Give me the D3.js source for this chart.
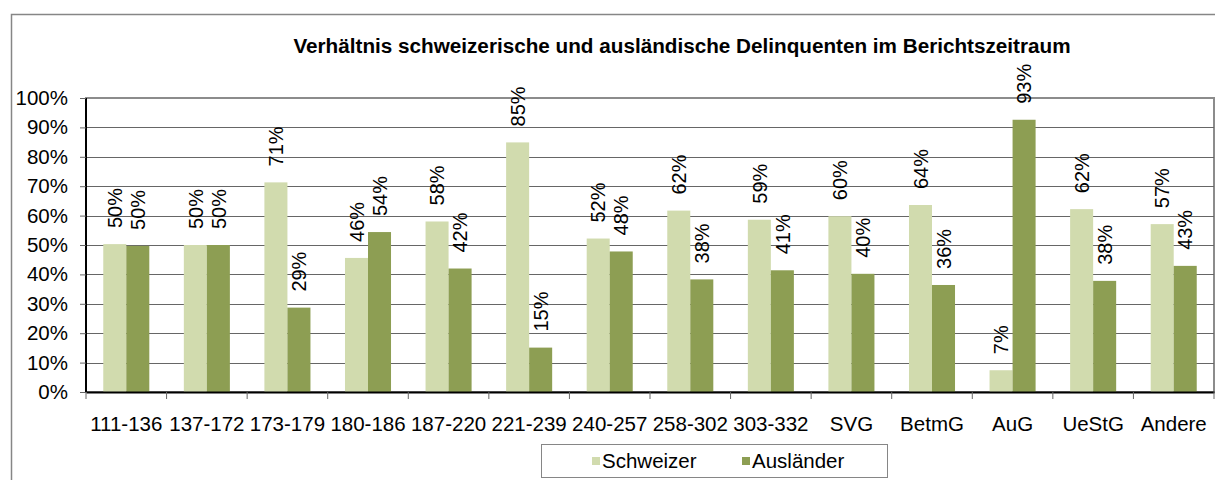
<!DOCTYPE html>
<html>
<head>
<meta charset="utf-8">
<script src="https://cdn.jsdelivr.net/npm/d3@7"></script>
<style>
  body { margin: 0; background: #fff; }
  text { font-family: "Liberation Sans", Arial, sans-serif; fill: #000; }
</style>
</head>
<body>
<div id="chartDiv"></div>
<script>
var categories = ["111-136", "137-172", "173-179", "180-186", "187-220", "221-239", "240-257",
                  "258-302", "303-332", "SVG", "BetmG", "AuG", "UeStG", "Andere"];
var seriesNames = ["Schweizer", "Ausländer"];
var schweizer = [50.3, 50.0, 71.3, 45.6, 58.0, 84.9, 52.2, 61.7, 58.6, 59.8, 63.6, 7.4, 62.2, 57.1];
var auslaender = [49.7, 50.0, 28.7, 54.4, 42.0, 15.1, 47.8, 38.3, 41.4, 40.2, 36.4, 92.6, 37.8, 42.9];
var yTicks = [0, 10, 20, 30, 40, 50, 60, 70, 80, 90, 100];
var colors = ["#d1dbae", "#8d9e53"];

var rows = categories.map(function(c, i) {
  return {cat: c, values: [schweizer[i], auslaender[i]]};
});

var svg = d3.select("#chartDiv").append("svg")
    .attr("width", 1215)
    .attr("height", 480);

var margin = {top: 98, left: 86, right: 1, bottom: 88};
var width = 1215 - margin.left - margin.right,
    height = 480 - margin.top - margin.bottom;

// outer chart frame
svg.append("rect")
    .attr("x", 11.5).attr("y", 14.5)
    .attr("width", 1300).attr("height", 600)
    .attr("fill", "none").attr("stroke", "#868686").attr("stroke-width", 1.5);

svg.append("text")
    .attr("x", 682).attr("y", 53)
    .attr("text-anchor", "middle")
    .style("font-weight", "bold").style("font-size", "20.7px")
    .text("Verhältnis schweizerische und ausländische Delinquenten im Berichtszeitraum");

var chart = svg.append("g").attr("transform", "translate(" + margin.left + "," + margin.top + ")");

var x0 = d3.scaleBand().domain(categories).range([0, width]).padding(0);
var x1 = d3.scaleBand().domain(seriesNames).range([0, x0.bandwidth()]).paddingInner(0).paddingOuter(0.75);
var y = d3.scaleLinear().domain([0, 100]).range([height, 0]);

// plot area border
chart.append("rect")
    .attr("x", 0).attr("y", 0)
    .attr("width", width).attr("height", height)
    .attr("fill", "none").attr("stroke", "#8c8c8c").attr("stroke-width", 2);

// gridlines
chart.append("g").selectAll("line").data(yTicks.slice(1, -1)).enter()
  .append("line")
    .attr("x1", 0).attr("x2", width)
    .attr("y1", function(d) { return Math.round(y(d)) + 0.5; })
    .attr("y2", function(d) { return Math.round(y(d)) + 0.5; })
    .attr("stroke", "#666").attr("stroke-width", 1);

// bars
var groups = chart.append("g").selectAll("g").data(rows).enter()
  .append("g").attr("transform", function(d) { return "translate(" + x0(d.cat) + ",0)"; });

groups.selectAll("rect").data(function(d) {
    return d.values.map(function(v, i) { return {name: seriesNames[i], v: v, i: i}; });
  }).enter()
  .append("rect")
    .attr("x", function(d) { return x1(d.name); })
    .attr("width", x1.bandwidth())
    .attr("y", function(d) { return y(d.v); })
    .attr("height", function(d) { return height - y(d.v); })
    .attr("fill", function(d) { return colors[d.i]; });

// data labels
groups.selectAll("text").data(function(d) {
    return d.values.map(function(v, i) { return {name: seriesNames[i], v: v}; });
  }).enter()
  .append("text")
    .attr("transform", function(d) {
      return "translate(" + (x1(d.name) + x1.bandwidth() / 2) + "," + (y(d.v) - 16) + ") rotate(-90)";
    })
    .attr("dy", "0.36em")
    .style("font-size", "20px")
    .text(function(d) { return Math.round(d.v) + "%"; });

// y axis
var yAxis = d3.axisLeft(y).tickValues(yTicks).tickSize(6).tickPadding(12)
    .tickFormat(function(d) { return d + "%"; });
var yG = chart.append("g").call(yAxis);
yG.select(".domain").attr("stroke", "#000").attr("stroke-width", 2).attr("d", "M0," + height + "V0");
yG.selectAll(".tick line").attr("stroke", "#666");
yG.selectAll(".tick text").style("font-size", "20.5px").attr("fill", "#000");

// x axis
var xAxis = d3.axisBottom(x0).tickSize(0).tickPadding(24);
var xG = chart.append("g").attr("transform", "translate(0," + height + ")").call(xAxis);
xG.select(".domain").attr("stroke", "#000").attr("stroke-width", 2);
xG.selectAll(".tick text").style("font-size", "20.5px").attr("fill", "#000");
xG.selectAll(".bound").data(categories.map(function(c) { return x0(c); }).concat([width])).enter()
  .append("line").attr("class", "bound")
    .attr("x1", function(d) { return d; }).attr("x2", function(d) { return d; })
    .attr("y1", 0).attr("y2", 7)
    .attr("stroke", "#666");

// legend
var legend = svg.append("g");
legend.append("rect")
    .attr("x", 541.5).attr("y", 444.5).attr("width", 346).attr("height", 33)
    .attr("fill", "#fff").attr("stroke", "#868686");
var legendX = [592, 742];
seriesNames.forEach(function(s, i) {
  legend.append("rect")
      .attr("x", legendX[i]).attr("y", 457).attr("width", 8).attr("height", 8)
      .attr("fill", colors[i]);
  legend.append("text")
      .attr("x", legendX[i] + 10).attr("y", 468)
      .style("font-size", "20.5px")
      .text(s);
});
</script>
</body>
</html>
